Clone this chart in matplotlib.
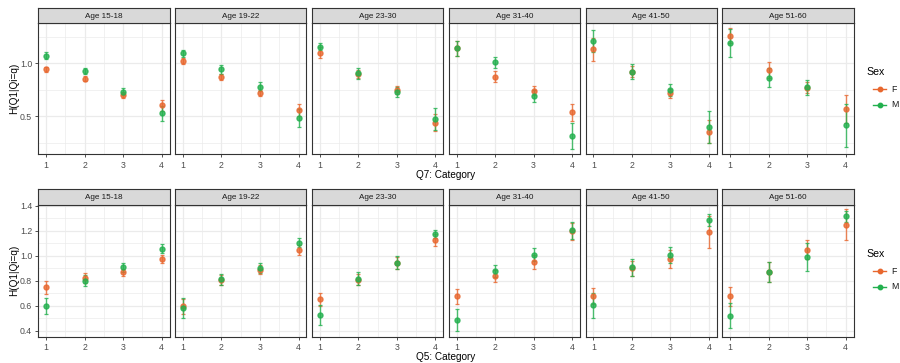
import matplotlib
matplotlib.use("Agg")
import matplotlib.pyplot as plt
from matplotlib.lines import Line2D
import numpy as np

plt.rcParams['font.family'] = ['Liberation Sans', 'DejaVu Sans']

categories = [1, 2, 3, 4]
age_groups = ["Age 15-18", "Age 19-22", "Age 23-30", "Age 31-40", "Age 41-50", "Age 51-60"]
sexes = ["F", "M"]
colors = {"F": "#E8672E", "M": "#22B04E"}

# Row 1: Q7
q7_F_mean = [[0.943, 0.855, 0.700, 0.604],
             [1.022, 0.868, 0.717, 0.560],
             [1.100, 0.900, 0.748, 0.440],
             [1.140, 0.874, 0.742, 0.538],
             [1.132, 0.920, 0.717, 0.355],
             [1.260, 0.937, 0.770, 0.566]]
q7_F_err = [[0.025, 0.024, 0.025, 0.050],
            [0.030, 0.030, 0.030, 0.060],
            [0.050, 0.040, 0.035, 0.080],
            [0.070, 0.050, 0.040, 0.079],
            [0.110, 0.050, 0.040, 0.107],
            [0.068, 0.079, 0.050, 0.132]]
q7_M_mean = [[1.072, 0.930, 0.733, 0.528],
             [1.094, 0.943, 0.780, 0.484],
             [1.157, 0.906, 0.733, 0.475],
             [1.141, 1.009, 0.695, 0.317],
             [1.210, 0.921, 0.748, 0.399],
             [1.189, 0.862, 0.774, 0.415]]
q7_M_err = [[0.036, 0.028, 0.033, 0.072],
            [0.030, 0.040, 0.044, 0.088],
            [0.030, 0.050, 0.047, 0.100],
            [0.070, 0.050, 0.057, 0.124],
            [0.100, 0.070, 0.060, 0.150],
            [0.130, 0.090, 0.070, 0.200]]

# Row 2: Q5
q5_F_mean = [[0.747, 0.819, 0.867, 0.973],
             [0.597, 0.810, 0.890, 1.051],
             [0.653, 0.810, 0.944, 1.125],
             [0.675, 0.840, 0.952, 1.197],
             [0.677, 0.899, 0.976, 1.192],
             [0.675, 0.872, 1.051, 1.251]]
q5_F_err = [[0.050, 0.040, 0.025, 0.033],
            [0.060, 0.040, 0.035, 0.040],
            [0.053, 0.045, 0.050, 0.047],
            [0.057, 0.050, 0.057, 0.070],
            [0.063, 0.060, 0.070, 0.130],
            [0.076, 0.080, 0.073, 0.127]]
q5_M_mean = [[0.597, 0.800, 0.907, 1.059],
             [0.579, 0.811, 0.899, 1.107],
             [0.525, 0.816, 0.944, 1.179],
             [0.485, 0.877, 1.011, 1.205],
             [0.605, 0.907, 1.008, 1.285],
             [0.520, 0.872, 0.992, 1.317]]
q5_M_err = [[0.065, 0.045, 0.037, 0.035],
            [0.080, 0.044, 0.040, 0.036],
            [0.080, 0.053, 0.053, 0.032],
            [0.090, 0.050, 0.053, 0.070],
            [0.100, 0.065, 0.065, 0.047],
            [0.100, 0.080, 0.110, 0.044]]

rows = [
    dict(F=(q7_F_mean, q7_F_err), M=(q7_M_mean, q7_M_err), xlabel="Q7: Category",
         ylim=(0.142, 1.377), major=[0.5, 1.0], minor=[0.25, 0.75, 1.25],
         fmt="%.1f", axes_top=23.3, axes_bot=154.3, strip_top=8.3, xlab_y=174.5, legend_y=72),
    dict(F=(q5_F_mean, q5_F_err), M=(q5_M_mean, q5_M_err), xlabel="Q5: Category",
         ylim=(0.352, 1.408), major=[0.4, 0.6, 0.8, 1.0, 1.2, 1.4],
         minor=[0.5, 0.7, 0.9, 1.1, 1.3],
         fmt="%.1f", axes_top=205.0, axes_bot=336.7, strip_top=189.0, xlab_y=356.5, legend_y=254),
]

W, H = 900, 363
fig = plt.figure(figsize=(W / 100, H / 100), dpi=100)

left0, step, pw = 38.3, 136.8, 131.3
border = "#333333"
gridc = "#EBEBEB"

for r, row in enumerate(rows):
    for i, age in enumerate(age_groups):
        x0 = left0 + i * step
        ax = fig.add_axes([x0 / W, 1 - row["axes_bot"] / H, pw / W,
                           (row["axes_bot"] - row["axes_top"]) / H])
        ax.set_xlim(0.795, 4.205)
        ax.set_ylim(*row["ylim"])
        ax.set_xticks(categories)
        ax.set_xticks([1.5, 2.5, 3.5], minor=True)
        ax.set_yticks(row["major"])
        ax.set_yticks(row["minor"], minor=True)
        ax.grid(True, which="major", color=gridc, lw=0.9, zorder=0)
        ax.grid(True, which="minor", color=gridc, lw=0.5, zorder=0)
        ax.set_axisbelow(True)
        for sp in ax.spines.values():
            sp.set_color(border)
            sp.set_linewidth(0.8)
        ax.tick_params(which="minor", length=0)
        ax.tick_params(which="major", length=2.5, width=0.6, color="#333333",
                       labelsize=6.3, labelcolor="#4D4D4D", pad=2)
        ax.set_xticklabels([str(c) for c in categories])
        if i == 0:
            ax.set_yticklabels([row["fmt"] % v for v in row["major"]])
        else:
            ax.set_yticklabels([])
            ax.tick_params(axis="y", length=0)
        for s in sexes:
            means, errs = row[s]
            ax.errorbar(categories, means[i], yerr=errs[i], fmt="o", color=colors[s],
                        ms=3.6, elinewidth=1.0, capsize=1.6, capthick=0.9,
                        alpha=0.8, zorder=3)
        # strip
        sax = fig.add_axes([x0 / W, 1 - row["axes_top"] / H, pw / W,
                            (row["axes_top"] - row["strip_top"]) / H])
        sax.set_facecolor("#D9D9D9")
        sax.set_xticks([])
        sax.set_yticks([])
        for sp in sax.spines.values():
            sp.set_color(border)
            sp.set_linewidth(0.8)
        sax.text(0.5, 0.45, age, ha="center", va="center", fontsize=5.9,
                 color="#1A1A1A", transform=sax.transAxes)

    # x label
    fig.text((left0 + (5 * step + pw) / 2) / W, 1 - row["xlab_y"] / H, row["xlabel"],
             ha="center", va="center", fontsize=7.2)
    # y label
    fig.text(14 / W, 1 - ((row["axes_top"] + row["axes_bot"]) / 2) / H, "H(Q1|Qi=q)",
             rotation=90, ha="center", va="center", fontsize=7.2)
    # legend
    ly = row["legend_y"]
    fig.text(866 / W, 1 - ly / H, "Sex", ha="left", va="center", fontsize=7.6)
    for k, s in enumerate(sexes):
        yy = 1 - (ly + 17 + k * 15.5) / H
        fig.add_artist(Line2D([873 / W, 886 / W], [yy, yy], color=colors[s], lw=1.0,
                              transform=fig.transFigure))
        fig.add_artist(Line2D([879.5 / W], [yy], marker="o", ms=3.2, color=colors[s],
                              transform=fig.transFigure))
        fig.text(891 / W, yy, s, ha="left", va="center", fontsize=6.3, color="#1A1A1A")

fig.savefig("out.png", dpi=100, facecolor="white")
